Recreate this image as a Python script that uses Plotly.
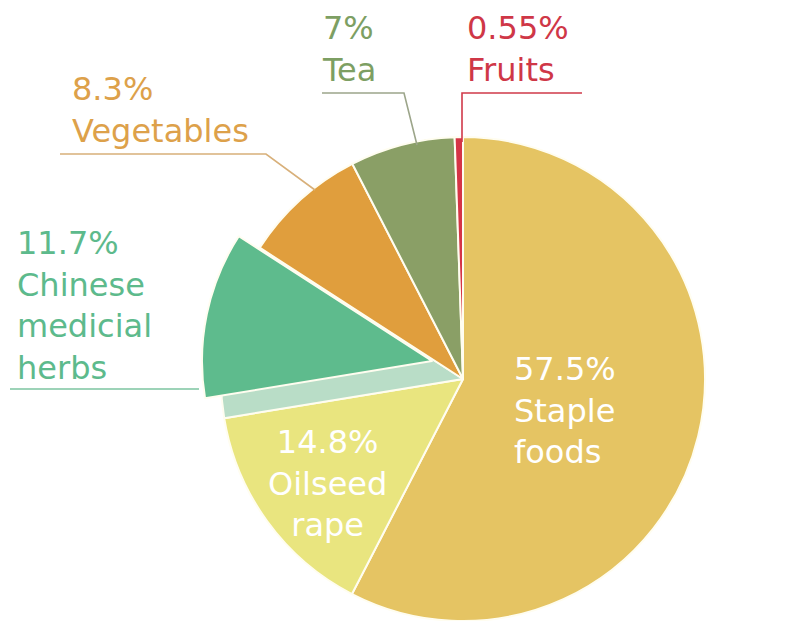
import plotly.graph_objects as go

# ---- data ----
categories = ["Staple foods", "Oilseed rape", "Chinese medicial herbs", "Vegetables", "Tea", "Fruits"]
values = [57.5, 14.8, 11.7, 8.3, 7, 0.55]
label_lines = [["Staple", "foods"], ["Oilseed", "rape"], ["Chinese", "medicial", "herbs"],
               ["Vegetables"], ["Tea"], ["Fruits"]]

# ---- styles ----
slice_colors = ["#E5C463", "#E9E57F", "#B9DDC7", "#E09E3D", "#8A9F66", "#D53446"]
herb_color = "#5EBB8D"
text_colors = ["#FFFFFF", "#FFFFFF", "#5DBA8C", "#DDA14A", "#7D9F63", "#CF3747"]
line_colors = [None, None, "#7CC4A0", "#D8B07A", "#9CA58A", "#D03A4A"]
W, H = 801, 621
FONT = "DejaVu Sans"
FS = 32

def px(x):
    return x / W

def py(y):
    return 1 - y / H

fig = go.Figure()

# base pie (herbs slice shows as the light "side" of the lifted piece)
fig.add_trace(go.Pie(
    labels=categories, values=values, sort=False, direction="clockwise", rotation=0,
    marker=dict(colors=slice_colors, line=dict(color="#FFFDF0", width=2)),
    textinfo="none", hoverinfo="label+percent", showlegend=False,
    domain=dict(x=[px(463 - 250), px(463 + 250)], y=[0, 484 / H]),
))

# lifted herbs slice
herb_idx = 2
top_colors = ["rgba(0,0,0,0)"] * len(values)
top_colors[herb_idx] = herb_color
top_line = ["rgba(0,0,0,0)"] * len(values)
top_line[herb_idx] = "#FFFDF0"
fig.add_trace(go.Pie(
    labels=categories, values=values, sort=False, direction="clockwise", rotation=0,
    marker=dict(colors=top_colors, line=dict(color=top_line, width=2)),
    textinfo="none", hoverinfo="skip", showlegend=False,
    domain=dict(x=[px(432 - 245), px(432 + 245)], y=[py(361 + 230), py(361 - 230)]),
))

# ---- labels (positions in pixels) ----
label_pos = [
    dict(x=512, y=410, align="left", xanchor="left"),
    dict(x=327, y=483, align="center", xanchor="center"),
    dict(x=15, y=305, align="left", xanchor="left"),
    dict(x=70, y=110, align="left", xanchor="left"),
    dict(x=320, y=49, align="left", xanchor="left"),
    dict(x=465, y=49, align="left", xanchor="left"),
]
annotations = []
for i, (v, lines) in enumerate(zip(values, label_lines)):
    txt = "<br>".join([f"{v:g}%"] + lines)
    p = label_pos[i]
    annotations.append(dict(
        x=px(p["x"]), y=py(p["y"]), xref="paper", yref="paper",
        text=txt, showarrow=False, align=p["align"], xanchor=p["xanchor"], yanchor="middle",
        font=dict(family=FONT, size=FS, color=text_colors[i]),
    ))

# leader lines (pixel paths)
leaders = {
    2: [(10, 389), (199, 389)],
    3: [(60, 154), (266, 154), (315, 190)],
    4: [(322, 93), (404, 93), (417, 145)],
    5: [(582, 93), (462, 93), (462, 142)],
}
shapes = []
for i, pts in leaders.items():
    path = "M " + " L ".join(f"{px(x):.5f},{py(y):.5f}" for x, y in pts)
    shapes.append(dict(type="path", path=path, xref="paper", yref="paper",
                       line=dict(color=line_colors[i], width=1.6), layer="above"))

fig.update_layout(
    width=W, height=H, margin=dict(l=0, r=0, t=0, b=0),
    paper_bgcolor="white", plot_bgcolor="white",
    annotations=annotations, shapes=shapes, showlegend=False,
)

fig.write_html("out.html")
